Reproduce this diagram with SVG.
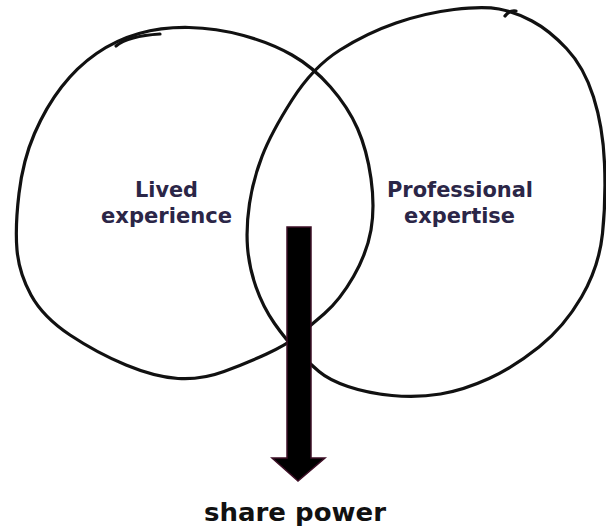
<svg xmlns="http://www.w3.org/2000/svg" width="606" height="530" viewBox="0 0 606 530">
<style>
.blob{fill:none;stroke:#111;stroke-width:3.2;stroke-linecap:round;stroke-linejoin:round}
.lbl{font-family:"DejaVu Sans","Liberation Sans",sans-serif;font-weight:700;font-size:21px;fill:#2b2647;text-anchor:middle}
.out{font-family:"DejaVu Sans","Liberation Sans",sans-serif;font-weight:700;font-size:24px;fill:#111;text-anchor:middle}
</style>
<rect width="606" height="530" fill="#fff"/>
<g id="lived">
<path class="blob" d="M139,33.5 Q162,27 189,27.5 Q216,28 243.5,35.5 Q271,43 292,55 Q313,67 330.5,87 Q348,107 357.5,128.5 Q367,150 371,178.5 Q375,207 371,230 Q367,253 353.5,276.5 Q340,300 324.5,313.5 Q309,327 297.5,336 Q286,345 266.5,354 Q247,363 224,371.5 Q201,380 178,378.5 Q155,377 126,365 Q97,353 70,335 Q43,317 31,295 Q19,273 17,250 Q15,227 19,193.5 Q23,160 34.5,133.5 Q46,107 61.5,87 Q77,67 96.5,53.5 Q116,40 139,33.5 Z"/>
<path class="blob" d="M116,46 Q128,36 160,34"/>
<text class="lbl" x="166.5" y="197" textLength="63" lengthAdjust="spacingAndGlyphs">Lived</text>
<text class="lbl" x="166.5" y="223" textLength="131" lengthAdjust="spacingAndGlyphs">experience</text>
</g>
<g id="professional">
<path class="blob" d="M396,23 Q425,13 454,9.5 Q483,6 499,9 Q515,12 532,21 Q549,30 566.5,48.5 Q584,67 593.5,97 Q603,127 604.5,163.5 Q606,200 602.5,233.5 Q599,267 581.5,297 Q564,327 539,347 Q514,367 489,378.5 Q464,390 440.5,394 Q417,398 392,395.5 Q367,393 348,386.5 Q329,380 319,371.5 Q309,363 297.5,351.5 Q286,340 274.5,323.5 Q263,307 256,287 Q249,267 247.5,247 Q246,227 249.5,203.5 Q253,180 262,156.5 Q271,133 292,100 Q313,67 340,50 Q367,33 396,23 Z"/>
<path class="blob" d="M505,16 Q509,10 516,11"/>
<text class="lbl" x="460" y="197" textLength="146" lengthAdjust="spacingAndGlyphs">Professional</text>
<text class="lbl" x="459.5" y="223" textLength="111" lengthAdjust="spacingAndGlyphs">expertise</text>
</g>
<g id="connectors">
<polygon points="287,227 311,227 311,458 325,458 298,481 272,458 287,458" fill="#000" stroke="#3d0f26" stroke-width="1.5" stroke-linejoin="miter"/>
</g>
<g id="share">
<text class="out" x="295" y="521" textLength="182" lengthAdjust="spacingAndGlyphs">share power</text>
</g>
</svg>
